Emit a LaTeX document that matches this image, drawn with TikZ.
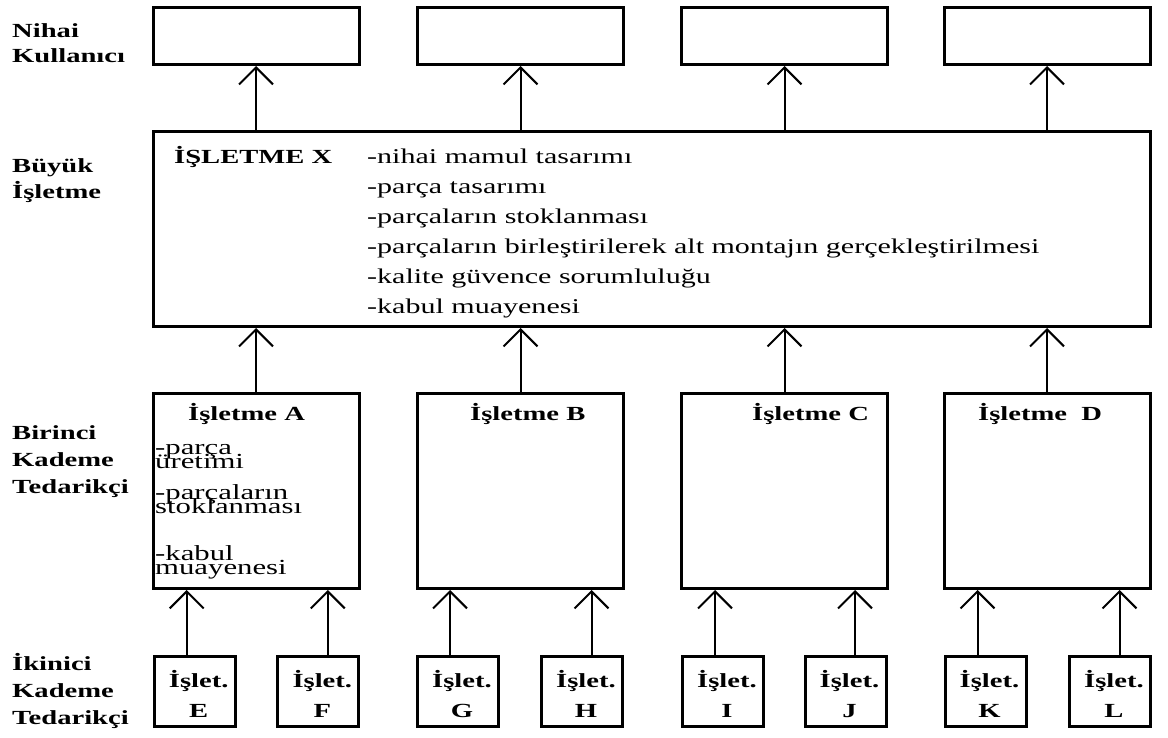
\documentclass[tikz,border=0pt]{standalone}
\usepackage{fontspec}
\setmainfont{Liberation Serif}
\usepackage{graphicx}
\usetikzlibrary{arrows.meta}
% horizontally widened type
\newcommand{\wide}[1]{\scalebox{1.43}[1]{#1}}
% rows with a fixed baseline distance; the first row carries the baseline
\newcommand{\rowsL}[2]{\wide{\vtop{\baselineskip=#1\lineskiplimit=-\maxdimen\lineskip=0pt\halign{##\hfil\cr#2\crcr}}}}
\newcommand{\rowsC}[2]{\wide{\vtop{\baselineskip=#1\lineskiplimit=-\maxdimen\lineskip=0pt\halign{\hfil##\hfil\cr#2\crcr}}}}
\tikzset{
  box/.style={draw, line width=3pt, inner sep=0pt, minimum width=206pt, minimum height=57pt},
  midbox/.style={box, minimum height=195pt},
  smallbox/.style={box, minimum width=81pt, minimum height=70pt},
  txt/.style={inner sep=0pt, font=\fontsize{20}{26}\selectfont},
  lbl/.style={txt, anchor=base west, font=\bfseries\fontsize{20}{26}\selectfont},
  link/.style={line width=2pt, -{Straight Barb[length=17pt,width=34pt]}},
}
\begin{document}
\begin{tikzpicture}[x=1pt, y=-1pt]
\useasboundingbox (0,0) rectangle (1168,738);

% level labels
\node[lbl] (l1) at (12,38)  {\rowsL{25pt}{Nihai\cr Kullanıcı}};
\node[lbl] (l2) at (12,173) {\rowsL{26pt}{Büyük\cr İşletme}};
\node[lbl] (l3) at (12,439) {\rowsL{27pt}{Birinci\cr Kademe\cr Tedarikçi}};
\node[lbl] (l4) at (12,670) {\rowsL{27pt}{İkinici\cr Kademe\cr Tedarikçi}};

% end users
\node[box] (t1) at (256,36)    {};
\node[box] (t2) at (520.5,36)  {};
\node[box] (t3) at (784.5,36)  {};
\node[box] (t4) at (1047,36)   {};

% main firm
\node[box, minimum width=997pt, minimum height=195pt] (X) at (651.5,229) {};
\node[lbl] (xt) at (174,164) {\wide{İŞLETME X}};
\node[txt, anchor=base west, font=\fontsize{21}{30}\selectfont] (xl) at (367,164) {\rowsL{30pt}{-nihai mamul tasarımı\cr
  -parça tasarımı\cr
  -parçaların stoklanması\cr
  -parçaların birleştirilerek alt montajın gerçekleştirilmesi\cr
  -kalite güvence sorumluluğu\cr
  -kabul muayenesi}};

% first tier suppliers
\node[midbox] (A) at (256,491)   {};
\node[midbox] (B) at (520.5,491) {};
\node[midbox] (C) at (784.5,491) {};
\node[midbox] (D) at (1047,491)  {};
\node[lbl] (at) at (188,420) {\wide{İşletme A}};
\node[lbl] (bt) at (470,420) {\wide{İşletme B}};
\node[lbl] (ct) at (752,420) {\wide{İşletme C}};
\node[lbl] (dt) at (978,420) {\wide{İşletme\ \ D}};
\tikzset{atext/.style={txt, anchor=base west, font=\fontsize{21.5}{14}\selectfont}}
\node[atext] (a1) at (155,454) {\rowsL{14pt}{-parça\cr üretimi}};
\node[atext] (a2) at (155,499) {\rowsL{14pt}{-parçaların\cr stoklanması}};
\node[atext] (a3) at (155,560) {\rowsL{14pt}{-kabul\cr muayenesi}};

% second tier suppliers
\foreach \n/\x/\c in {E/194.7/E, F/318.3/F, G/458/G, H/582/H, I/723/I, J/845.5/J, K/985.5/K, L/1110/L}{
  \node[smallbox] (\n) at (\x,691.5) {};
  \node[txt, anchor=base, font=\bfseries\fontsize{20}{26}\selectfont] (\n t) at (\x+4,687) {\rowsC{30pt}{İşlet.\cr \c}};
}

% flows towards the end users
\foreach \t in {t1,t2,t3,t4}{
  \draw[link] (X.north -| \t) -- (\t.south);
}
\foreach \p in {A,B,C,D}{
  \draw[link] (\p.north) -- (\p.north |- X.south);
}
\foreach \s/\p in {E/A, G/B, I/C, K/D}{
  \draw[link] ([xshift=-8pt]\s.north) -- ([xshift=-8pt]\s.north |- \p.south);
}
\foreach \s/\p in {F/A, H/B, J/C, L/D}{
  \draw[link] ([xshift=9.5pt]\s.north) -- ([xshift=9.5pt]\s.north |- \p.south);
}
\end{tikzpicture}
\end{document}
